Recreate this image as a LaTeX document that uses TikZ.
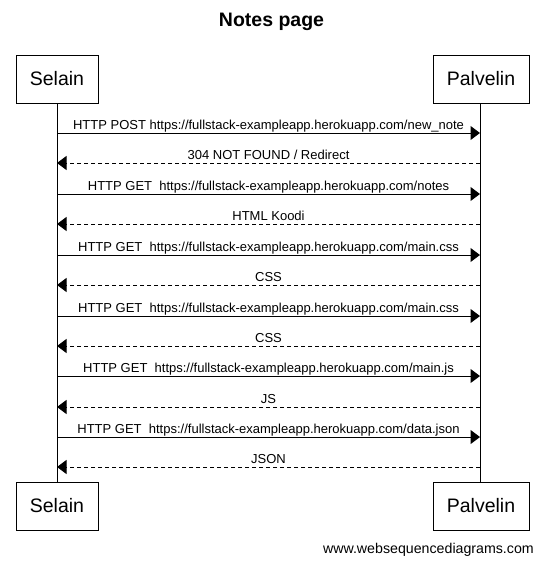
\documentclass[tikz,border=0pt]{standalone}
\usepackage{fontspec}
\setmainfont{Liberation Sans}
\usetikzlibrary{arrows.meta}
\begin{document}
\begin{tikzpicture}[x=1pt,y=-1pt,
  actor/.style={draw=black,line width=1pt,minimum width=82pt,minimum height=48pt,inner sep=0pt,font=\fontsize{19.5}{22}\selectfont},
  actorR/.style={actor,minimum width=96pt},
  life/.style={line width=1pt},
  msg/.style={line width=1pt,-{Triangle[length=9.5pt,width=14pt]}},
  reply/.style={msg,dash pattern=on 4pt off 3pt},
  lbl/.style={font=\fontsize{13}{15}\selectfont,anchor=base,inner sep=0pt}]
\useasboundingbox (0,0) rectangle (543,563);
\node[font=\bfseries\fontsize{19.5}{22}\selectfont] (title) at (271.5,22) {Notes page};
\node[actor,anchor=north west] (s1) at (15.5,54.5) {Selain};
\node[actorR,anchor=north west] (p1) at (432.5,54.5) {Palvelin};
\node[actor,anchor=north west] (s2) at (15.5,481.5) {Selain};
\node[actorR,anchor=north west] (p2) at (432.5,481.5) {Palvelin};
\coordinate (sx) at (57,0);
\coordinate (px) at (480,0);
\draw[life] (s1.south -| sx) -- (s2.north -| sx);
\draw[life] (p1.south -| px) -- (p2.north -| px);
\foreach \y/\t in {
  133/{HTTP POST https://fullstack-exampleapp.herokuapp.com/new\_note},
  163/{304 NOT FOUND / Redirect},
  194/{HTTP GET\ \ https://fullstack-exampleapp.herokuapp.com/notes},
  224/{HTML Koodi},
  255/{HTTP GET\ \ https://fullstack-exampleapp.herokuapp.com/main.css},
  285/{CSS},
  316/{HTTP GET\ \ https://fullstack-exampleapp.herokuapp.com/main.css},
  346/{CSS},
  376/{HTTP GET\ \ https://fullstack-exampleapp.herokuapp.com/main.js},
  407/{JS},
  437/{HTTP GET\ \ https://fullstack-exampleapp.herokuapp.com/data.json},
  467/{JSON}} {
  \coordinate (a\y) at (57,\y);
  \coordinate (b\y) at (480,\y);
  \node[lbl] (l\y) at (268.5,\y-4) {\t};
}
\foreach \y in {133,194,255,316,376,437} \draw[msg] (a\y) -- (b\y);
\foreach \y in {163,224,285,346,407,467} \draw[reply] (b\y) -- (a\y);
\node[font=\fontsize{14.2}{16}\selectfont,anchor=base east,inner sep=0pt] (wm) at (534,553) {www.websequencediagrams.com};
\end{tikzpicture}
\end{document}
